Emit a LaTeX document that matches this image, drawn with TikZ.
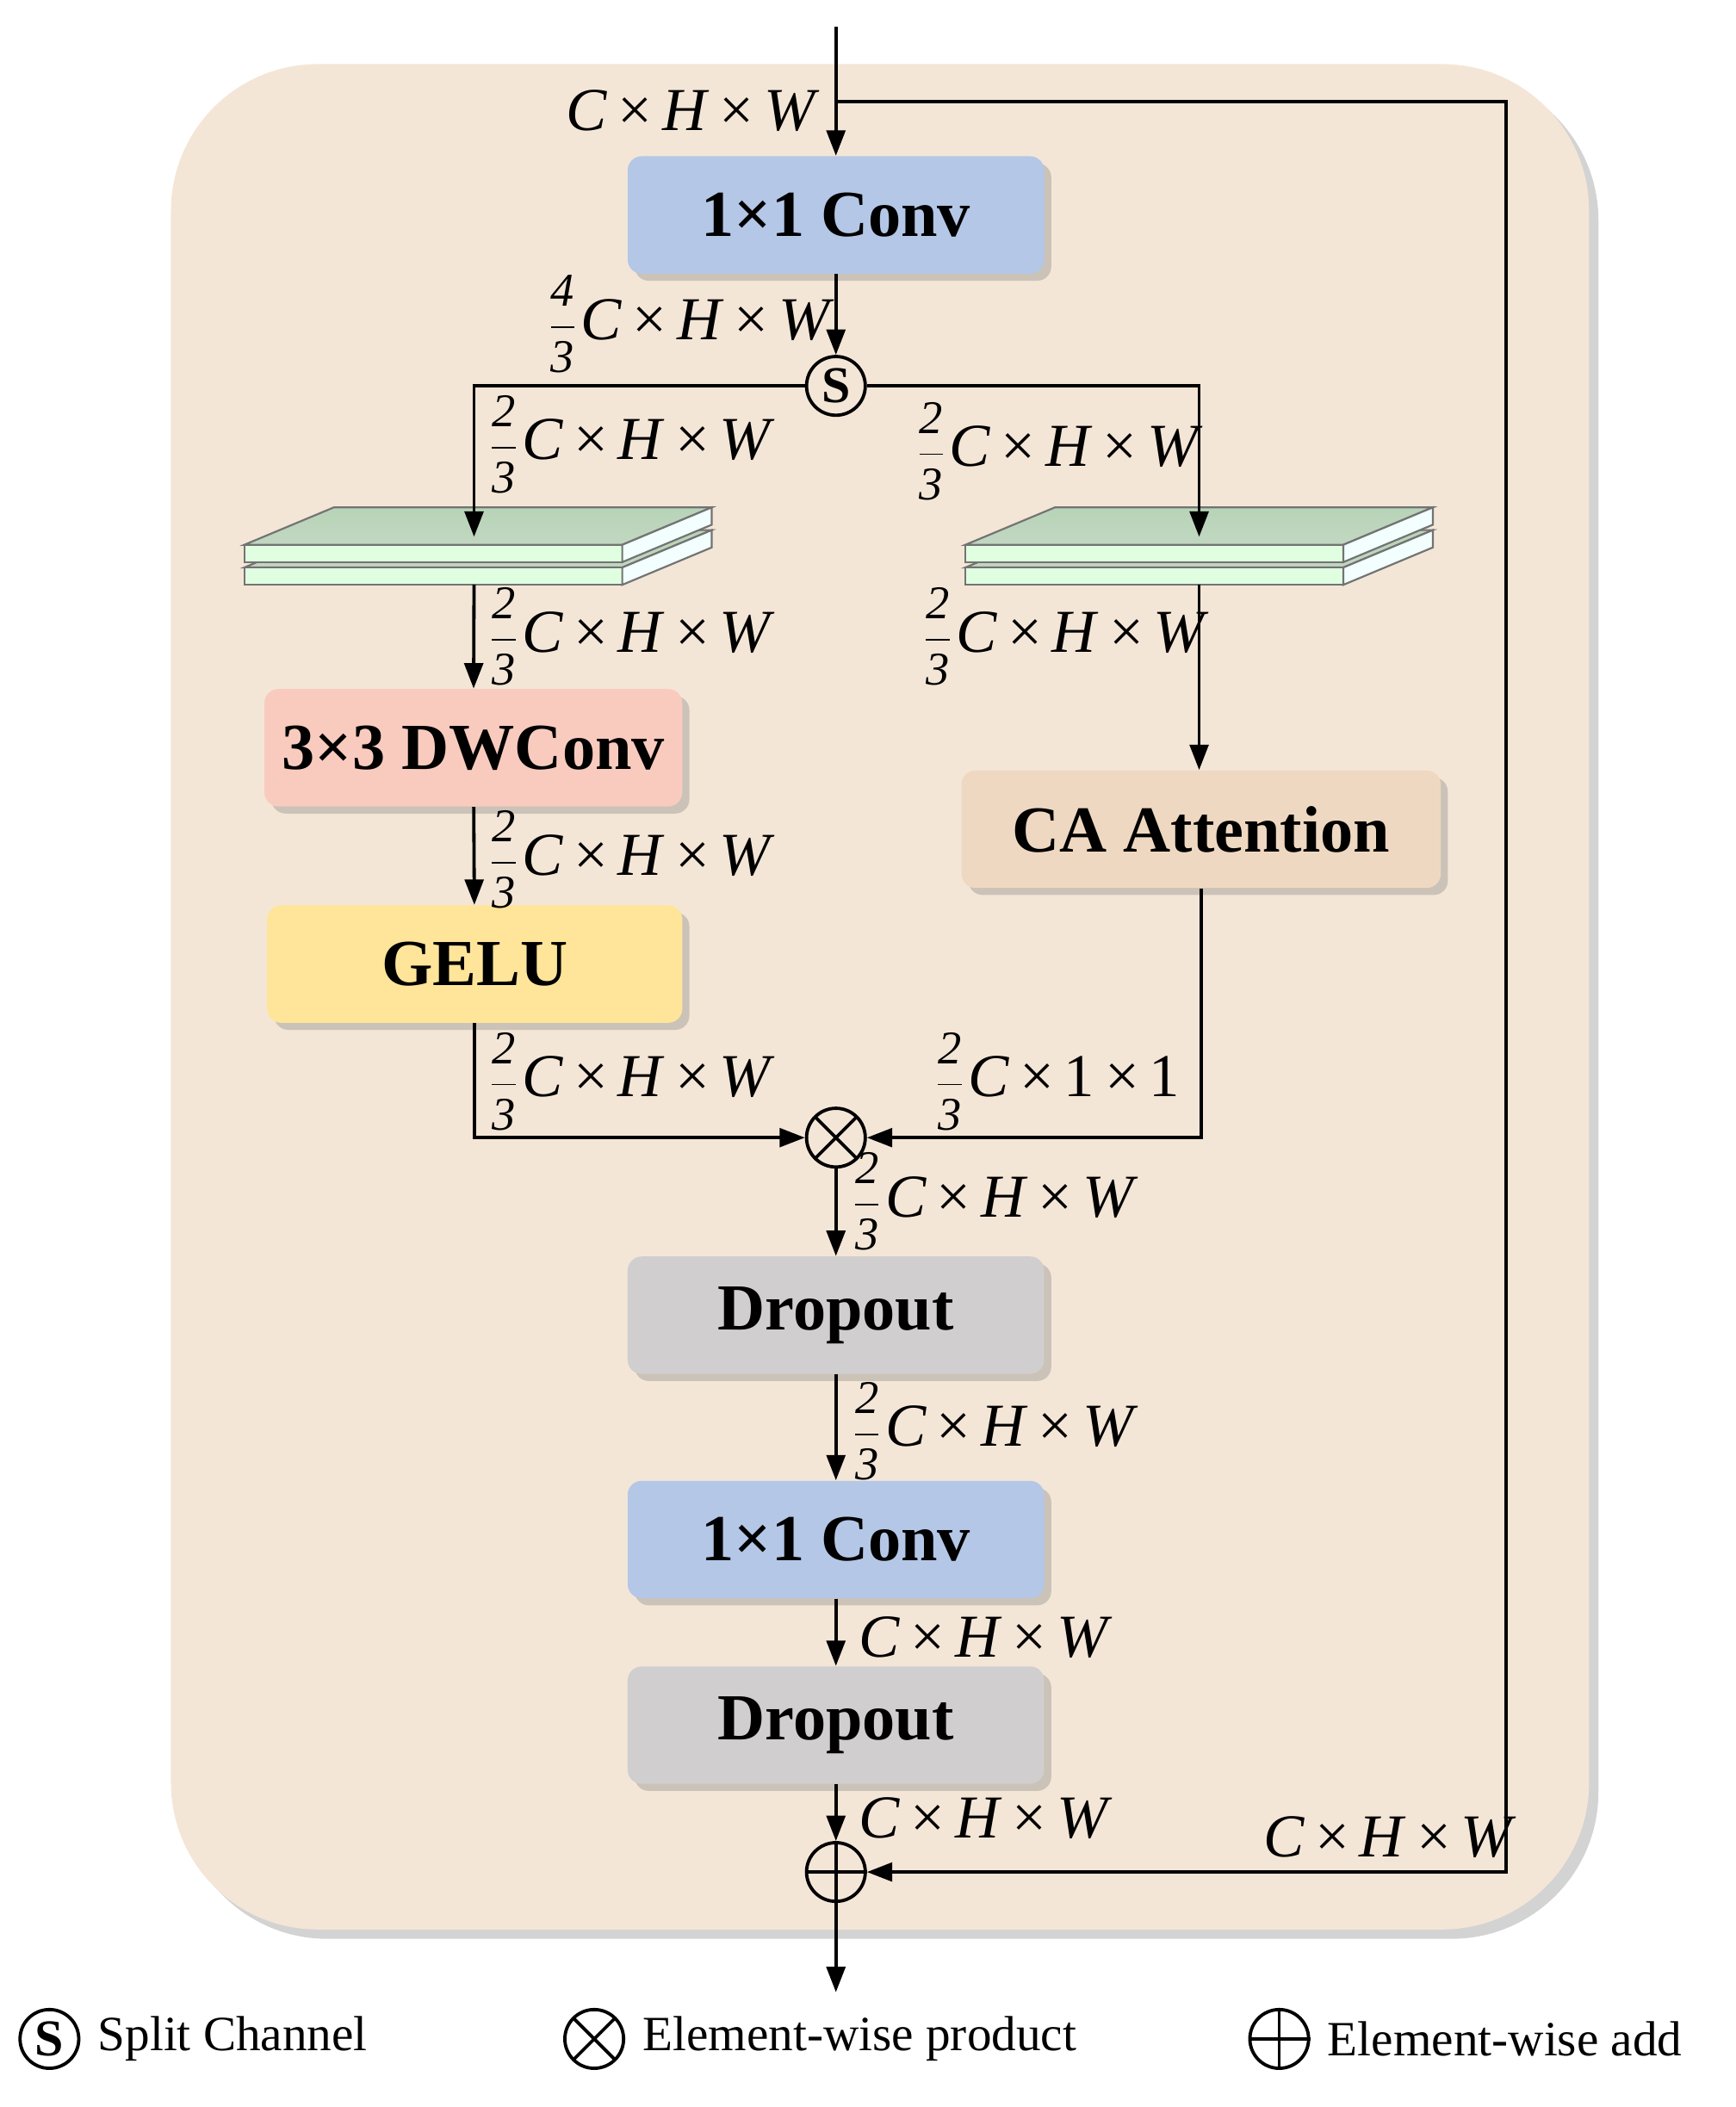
\documentclass[tikz,border=0pt]{standalone}
\usepackage{fontspec}
\usepackage{amsmath}
\setmainfont{Liberation Serif}
\usetikzlibrary{arrows.meta,shadows,calc}
\newcommand{\fr}[2]{{\fontsize{20}{20}\selectfont$\genfrac{}{}{0.7pt}{0}{\textit{#1}}{\textit{#2}}$}}
\newcommand{\chw}{{\fontsize{26}{26}\selectfont\textit{C}\,×\,\textit{H}\,×\,\textit{W}}}
\newcommand{\cii}{{\fontsize{26}{26}\selectfont\textit{C}\,×\,1\,×\,1}}
\definecolor{bg}{HTML}{F4E6D7}
\definecolor{convc}{HTML}{B4C7E7}
\definecolor{dwc}{HTML}{F9CBBE}
\definecolor{geluc}{HTML}{FFE599}
\definecolor{cac}{HTML}{EFD8C1}
\definecolor{dropc}{HTML}{D0CECE}
\tikzset{
  x=0.02cm,y=-0.02cm,
  box/.style={rounded corners=6pt,minimum width=6.24cm,minimum height=1.76cm,inner sep=0pt,
    font=\fontsize{28}{28}\selectfont\bfseries,
    drop shadow={shadow xshift=3pt,shadow yshift=-3pt,opacity=0.35,fill=gray}},
  arr/.style={line width=1.4pt,-{Triangle[length=0.38cm,width=0.28cm]}},
  op/.style={circle,draw,line width=1.4pt,minimum size=0.88cm,inner sep=0pt},
  lab/.style={anchor=west,inner sep=0pt},
  plate/.style={draw=black!55,line width=0.8pt},
  legend/.style={font=\fontsize{21}{21}\selectfont,anchor=west,inner sep=0pt}
}
\newcommand{\plate}[2]{% x0, y top of front face
  \fill[plate,top color=green!25!gray!45,bottom color=green!20!gray!40] (#1,#2) -- (#1+67,#2-28) -- (#1+350,#2-28) -- (#1+283,#2) -- cycle;
  \draw[plate,fill=green!12!white] (#1,#2) rectangle (#1+283,#2+13);
  \draw[plate,fill=green!8!cyan!5!white] (#1+283,#2) -- (#1+350,#2-28) -- (#1+350,#2-15) -- (#1+283,#2+13) -- cycle;
}
\begin{document}
\begin{tikzpicture}
\useasboundingbox (0,0) rectangle (1300,1578);
\fill[bg,rounded corners=2.2cm,drop shadow={shadow xshift=4pt,shadow yshift=-4pt,opacity=0.35,fill=gray}] (128,48) rectangle (1190,1445);

% boxes
\node[box,fill=convc] (conv1) at (626,161) {1×1 Conv};
\node[op,font=\fontsize{22}{22}\selectfont\bfseries] (split) at (626,289) {S};
\node[box,fill=dwc,minimum width=6.26cm] (dw) at (354.5,560) {3×3 DWConv};
\node[box,fill=geluc,minimum width=6.22cm] (gelu) at (355.5,722) {GELU};
\node[box,fill=cac,minimum width=7.18cm] (ca) at (899.5,621) {CA Attention};
\node[op] (mul) at (626,852) {};
\draw[line width=1.4pt] ($(mul)+(-15.5,-15.5)$) -- ($(mul)+(15.5,15.5)$) ($(mul)+(-15.5,15.5)$) -- ($(mul)+(15.5,-15.5)$);
\node[box,fill=dropc] (drop1) at (626,985) {Dropout};
\node[box,fill=convc] (conv2) at (626,1153) {1×1 Conv};
\node[box,fill=dropc] (drop2) at (626,1292) {Dropout};
\node[op] (add) at (626,1402) {};
\draw[line width=1.4pt] (add.north) -- (add.south) (add.west) -- (add.east);

% plates
\plate{183}{425}
\plate{183}{408}
\plate{723}{425}
\plate{723}{408}
\coordinate (p1t) at (355,402);
\coordinate (p1b) at (355,438);
\coordinate (p2t) at (898,402);
\coordinate (p2b) at (898,438);

% connectors
\coordinate (in) at (626,20);
\coordinate (out) at (626,1492);
\coordinate (sk0) at (626,76);
\coordinate (sk1) at (1128,76);
\coordinate (sk2) at (1128,1402);
\draw[arr] (in) -- (conv1);
\draw[arr] (conv1) -- (split);
\draw[arr] (split) -| (p1t);
\draw[arr] (split) -| (p2t);
\draw[arr] (p1b) -- (dw);
\draw[arr] (dw) -- (gelu);
\draw[arr] (p2b) -- (p2b |- ca.north);
\draw[arr] (gelu.south) |- (mul);
\draw[arr] (ca.south) |- (mul);
\draw[arr] (mul) -- (drop1);
\draw[arr] (drop1) -- (conv2);
\draw[arr] (conv2) -- (drop2);
\draw[arr] (drop2) -- (add);
\draw[arr] (add) -- (out);
\draw[arr] (sk0) -- (sk1) -- (sk2) -- (add);

% labels
\node[lab,anchor=east] (l0) at (614,83) {\chw};
\node[lab] (l1) at (410,243) {\fr{4}{3}\,\chw};
\node[lab] (l2) at (366,333) {\fr{2}{3}\,\chw};
\node[lab] (l3) at (686,338) {\fr{2}{3}\,\chw};
\node[lab] (l4) at (366,477) {\fr{2}{3}\,\chw};
\node[lab] (l5) at (691,477) {\fr{2}{3}\,\chw};
\node[lab] (l6) at (366,644) {\fr{2}{3}\,\chw};
\node[lab] (l7) at (366,810) {\fr{2}{3}\,\chw};
\node[lab] (l8) at (700,810) {\fr{2}{3}\,\cii};
\node[lab] (l9) at (638,900) {\fr{2}{3}\,\chw};
\node[lab] (l10) at (638,1072) {\fr{2}{3}\,\chw};
\node[lab] (l11) at (643,1226) {\chw};
\node[lab] (l12) at (643,1362) {\chw};
\node[lab] (l13) at (946,1376) {\chw};

% legend
\node[op,font=\fontsize{22}{22}\selectfont\bfseries] (lgS) at (37,1527) {S};
\node[legend] (lgSt) at (73,1527) {Split Channel};
\node[op] (lgM) at (445,1527) {};
\draw[line width=1.4pt] ($(lgM)+(-15.5,-15.5)$) -- ($(lgM)+(15.5,15.5)$) ($(lgM)+(-15.5,15.5)$) -- ($(lgM)+(15.5,-15.5)$);
\node[legend] (lgMt) at (481,1527) {Element-wise product};
\node[op] (lgA) at (958,1527) {};
\draw[line width=1.4pt] (lgA.north) -- (lgA.south) (lgA.west) -- (lgA.east);
\node[legend] (lgAt) at (994,1527) {Element-wise add};
\end{tikzpicture}
\end{document}
